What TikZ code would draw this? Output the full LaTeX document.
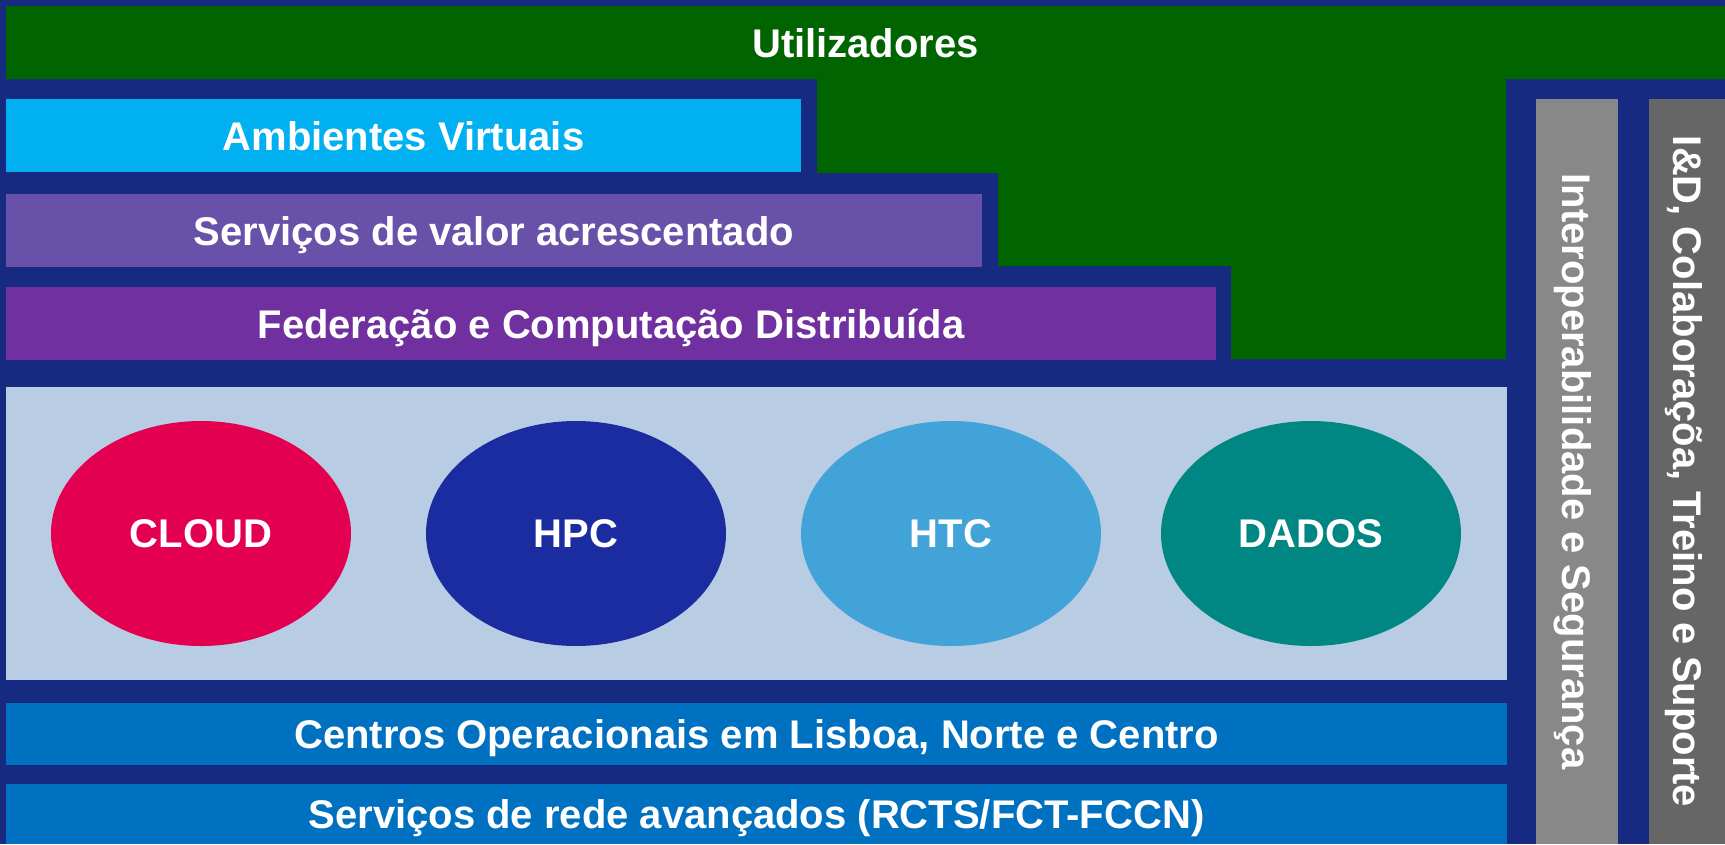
\documentclass[tikz,border=0pt]{standalone}
\usepackage{fontspec}
\setmainfont{Liberation Sans}
\usetikzlibrary{shapes.geometric}
\definecolor{navy}{RGB}{23,42,130}
\definecolor{grn}{RGB}{0,100,0}
\definecolor{amb}{RGB}{0,176,240}
\definecolor{svc}{RGB}{104,81,168}
\definecolor{fed}{RGB}{112,48,160}
\definecolor{panel}{RGB}{184,204,228}
\definecolor{ops}{RGB}{0,112,192}
\definecolor{gA}{RGB}{136,136,136}
\definecolor{gB}{RGB}{102,102,102}
\definecolor{cCloud}{RGB}{227,0,80}
\definecolor{cHpc}{RGB}{27,43,160}
\definecolor{cHtc}{RGB}{66,163,216}
\definecolor{cDados}{RGB}{0,135,132}
\newcommand\lbfont{\fontsize{40}{48}\selectfont\bfseries}
\tikzset{
  lbl/.style={text=white, font=\lbfont, anchor=base, inner sep=0pt},
  oval/.style={ellipse, minimum width=300pt, minimum height=225pt, inner sep=0pt, text=white, font=\lbfont}
}
\begin{document}
\begin{tikzpicture}[x=1pt,y=-1pt]
\useasboundingbox (0,0) rectangle (1725,844);
\fill[navy] (0,0) rectangle (1725,844);
\fill[grn] (6,6) -- (1725,6) -- (1725,79) -- (1506,79) -- (1506,359) -- (1231,359) -- (1231,266) -- (998,266) -- (998,173) -- (817,173) -- (817,79) -- (6,79) -- cycle;
\fill[amb] (6,99) rectangle (801,172);
\fill[svc] (6,194) rectangle (982,267);
\fill[fed] (6,287) rectangle (1216,360);
\fill[panel] (6,387) rectangle (1507,680);
\fill[ops] (6,703) rectangle (1507,765);
\fill[ops] (6,784) rectangle (1507,844);
\fill[gA] (1536,99) rectangle (1618,844);
\fill[gB] (1649,99) rectangle (1725,844);

\node[lbl] (util) at (865.5,57) {Utilizadores};
\node[lbl] (amb) at (403.5,150) {Ambientes Virtuais};
\node[lbl] (svc) at (494,245) {Serviços de valor acrescentado};
\node[lbl] (fed) at (611,338) {Federação e Computação Distribuída};
\node[lbl] (ops) at (756.5,748.5) {Centros Operacionais em Lisboa, Norte e Centro};
\node[lbl] (rede) at (756.5,828.5) {Serviços de rede avançados (RCTS/FCT-FCCN)};

\node[oval, fill=cCloud] (cloud) at (201,533.5) {CLOUD};
\node[oval, fill=cHpc] (hpc) at (576,533.5) {HPC};
\node[oval, fill=cHtc] (htc) at (951,533.5) {HTC};
\node[oval, fill=cDados] (dados) at (1311,533.5) {DADOS};

\node[lbl, rotate=-90] (inter) at (1562.7,471.5) {Interoperabilidade e Segurança};
\node[lbl, rotate=-90] (ide) at (1673,471.5) {I\&D, Colaboraçõa, Treino e Suporte};
\end{tikzpicture}
\end{document}
